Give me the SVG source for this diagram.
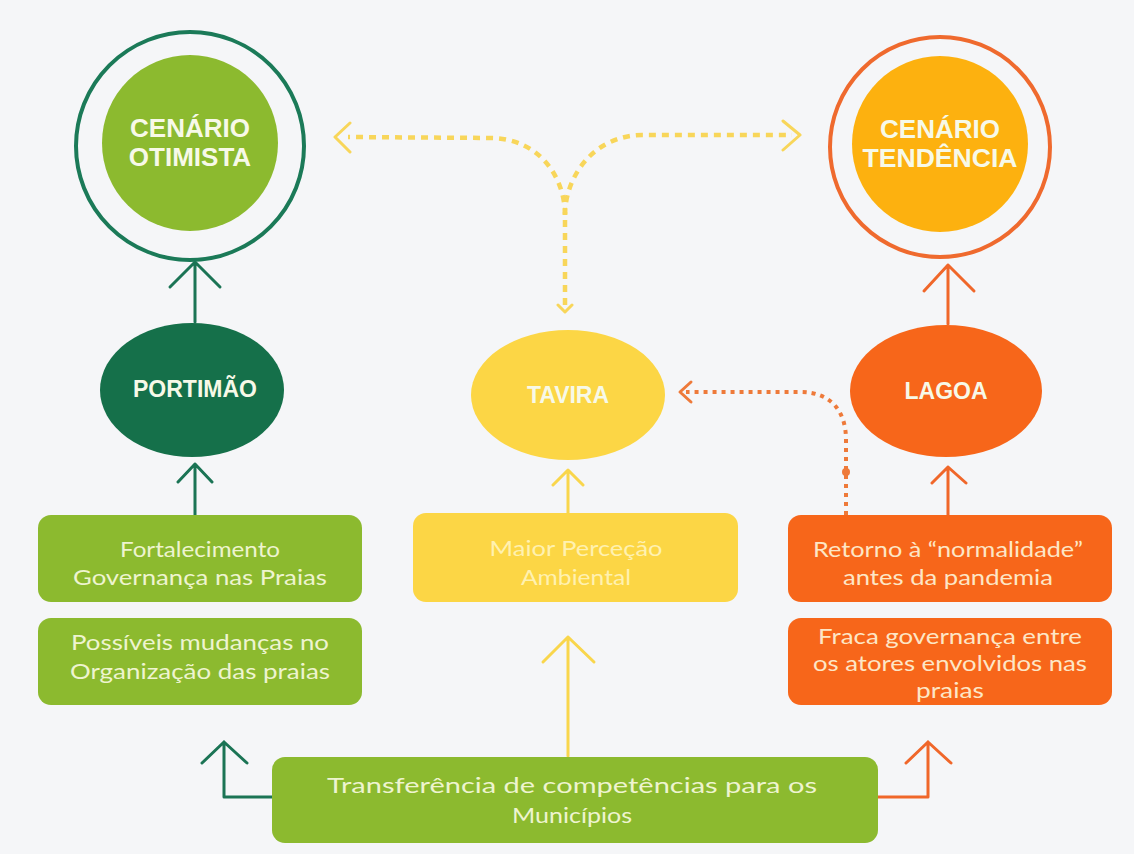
<svg xmlns="http://www.w3.org/2000/svg" width="1134" height="854" viewBox="0 0 1134 854">
<style>
.title{font-family:"Liberation Sans",Arial,sans-serif;font-weight:bold;fill:#f7f9e8;text-anchor:middle}
.box{font-family:Lato,"Open Sans",sans-serif;font-size:21px;text-anchor:middle}
.g{fill:#eef4cf}.y{fill:#fff1b0}.o{fill:#fde6c6}
.arr{fill:none;stroke-width:3;stroke-linecap:round;stroke-linejoin:round}
.dg{stroke:#1b7455}.yl{stroke:#f9d64c}.or{stroke:#f0672a}
</style>
<rect width="1134" height="854" fill="#f5f6f8"/>

<g id="connectors">
  <!-- Portimao -> Otimista -->
  <path class="arr dg" d="M195,322 V262 M170,287 L195,262 L220,287"/>
  <!-- Fortalecimento -> Portimao -->
  <path class="arr dg" d="M195,515 V464 M178,482 L195,464 L212,482"/>
  <!-- Lagoa -> Tendencia -->
  <path class="arr or" d="M948,324 V265 M924,291 L948,265 L974,291"/>
  <!-- Retorno -> Lagoa -->
  <path class="arr or" d="M948,515 V467 M932,483 L948,467 L966,483"/>
  <!-- Maior -> Tavira -->
  <path class="arr yl" d="M568,513 V470 M553,485 L568,470 L583,485"/>
  <!-- Transferencia -> Maior -->
  <path class="arr yl" d="M568,756 V637 M543,662 L568,637 L594,662"/>
  <!-- Transferencia side arrows -->
  <path class="arr dg" d="M272,797 H224 V742 M202,763 L224,742 L247,763"/>
  <path class="arr or" d="M878,797 H928 V742 M906,763 L928,742 L951,763"/>
  <!-- Yellow dashed Y -->
  <g fill="none" stroke="#f8d65a" stroke-width="4.5" stroke-dasharray="7 6">
    <path d="M565,305 V212"/>
    <path d="M565,215 C565,178 540,139 492,138 L348,137"/>
    <path d="M565,215 C565,178 592,136 642,135 L792,135"/>
  </g>
  <path class="arr" stroke="#f8d65a" stroke-width="3.5" d="M350,123 L335,137 L350,152 M783,121 L800,135 L783,150 M558,305 L565,312 L572,305"/>
  <!-- Orange dotted -->
  <path fill="none" stroke="#ee7a3a" stroke-width="4" stroke-dasharray="4 5" d="M846,515 V440 C846,410 830,392 800,392 L686,392"/>
  <circle cx="846" cy="472" r="4" fill="#ee7a3a"/>
  <path class="arr" stroke="#ee7a3a" d="M691,382 L680,392 L691,402"/>
</g>

<g id="cenario-otimista">
  <circle cx="190" cy="146" r="114" fill="none" stroke="#1b7a58" stroke-width="4"/>
  <circle cx="190" cy="143" r="88" fill="#8cba2f"/>
  <text class="title" x="190" y="137" font-size="26">CENÁRIO</text>
  <text class="title" x="190" y="166" font-size="26">OTIMISTA</text>
</g>

<g id="cenario-tendencia">
  <circle cx="940" cy="147" r="110" fill="none" stroke="#ef6a2e" stroke-width="4"/>
  <circle cx="940" cy="144" r="88" fill="#fdb10f"/>
  <text class="title" x="940" y="138" font-size="26">CENÁRIO</text>
  <text class="title" x="940" y="167" font-size="26" textLength="155" lengthAdjust="spacingAndGlyphs">TENDÊNCIA</text>
</g>

<g id="portimao">
  <ellipse cx="192" cy="390" rx="92" ry="67" fill="#15704a"/>
  <text class="title" x="195" y="397" font-size="23">PORTIMÃO</text>
</g>

<g id="tavira">
  <ellipse cx="568" cy="395" rx="97" ry="65" fill="#fcd645"/>
  <text class="title" x="568" y="403" font-size="23" fill="#fff7d6">TAVIRA</text>
</g>

<g id="lagoa">
  <ellipse cx="946" cy="391" rx="96" ry="66" fill="#f7661a"/>
  <text class="title" x="946" y="399" font-size="23">LAGOA</text>
</g>

<g id="fortalecimento">
  <rect x="38" y="515" width="324" height="87" rx="13" fill="#8cba2f"/>
  <text class="box g" x="200" y="557" textLength="160" lengthAdjust="spacingAndGlyphs">Fortalecimento</text>
  <text class="box g" x="200" y="585" textLength="254" lengthAdjust="spacingAndGlyphs">Governança nas Praias</text>
</g>

<g id="possiveis">
  <rect x="38" y="618" width="324" height="87" rx="13" fill="#8cba2f"/>
  <text class="box g" x="200" y="650" textLength="258" lengthAdjust="spacingAndGlyphs">Possíveis mudanças no</text>
  <text class="box g" x="200" y="679" textLength="260" lengthAdjust="spacingAndGlyphs">Organização das praias</text>
</g>

<g id="maior-percecao">
  <rect x="413" y="513" width="325" height="89" rx="13" fill="#fcd645"/>
  <text class="box y" x="576" y="556" textLength="173" lengthAdjust="spacingAndGlyphs">Maior Perceção</text>
  <text class="box y" x="576" y="585" textLength="110" lengthAdjust="spacingAndGlyphs">Ambiental</text>
</g>

<g id="retorno">
  <rect x="788" y="515" width="324" height="87" rx="13" fill="#f7661a"/>
  <text class="box o" x="948" y="557" textLength="270" lengthAdjust="spacingAndGlyphs">Retorno à “normalidade”</text>
  <text class="box o" x="948" y="585" textLength="210" lengthAdjust="spacingAndGlyphs">antes da pandemia</text>
</g>

<g id="fraca">
  <rect x="788" y="618" width="324" height="87" rx="13" fill="#f7661a"/>
  <text class="box o" x="950" y="644" textLength="264" lengthAdjust="spacingAndGlyphs">Fraca governança entre</text>
  <text class="box o" x="950" y="671" textLength="274" lengthAdjust="spacingAndGlyphs">os atores envolvidos nas</text>
  <text class="box o" x="950" y="698" textLength="68" lengthAdjust="spacingAndGlyphs">praias</text>
</g>

<g id="transferencia">
  <rect x="272" y="757" width="606" height="86" rx="13" fill="#8cba2f"/>
  <text class="box g" x="572" y="793" font-size="24" textLength="490" lengthAdjust="spacingAndGlyphs">Transferência de competências para os</text>
  <text class="box g" x="572" y="823" font-size="24" textLength="120" lengthAdjust="spacingAndGlyphs">Municípios</text>
</g>
</svg>
